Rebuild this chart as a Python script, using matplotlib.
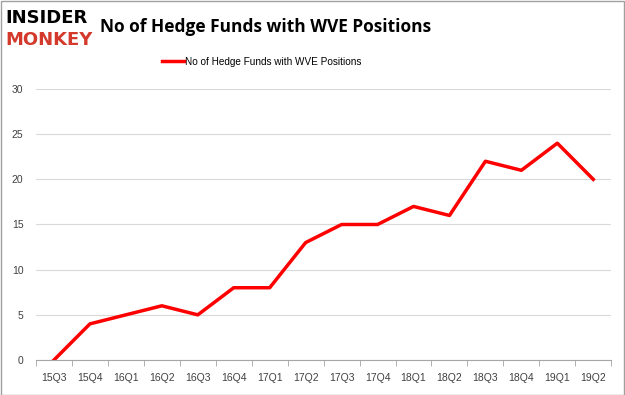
import matplotlib.pyplot as plt
from matplotlib.patches import Rectangle

quarters = ['15Q3', '15Q4', '16Q1', '16Q2', '16Q3', '16Q4', '17Q1', '17Q2',
            '17Q3', '17Q4', '18Q1', '18Q2', '18Q3', '18Q4', '19Q1', '19Q2']
funds = [0, 4, 5, 6, 5, 8, 8, 13, 15, 15, 17, 16, 22, 21, 24, 20]
yticks = [0, 5, 10, 15, 20, 25, 30]
series_name = 'No of Hedge Funds with WVE Positions'

plt.rcParams['font.family'] = ['Liberation Sans', 'DejaVu Sans']

fig = plt.figure(figsize=(6.25, 3.95), dpi=100)
ax = fig.add_axes([0.0576, 0.0886, 0.9204, 0.6861])

x = list(range(len(quarters)))
ax.plot(x, funds, color='#ff0000', linewidth=2.5, label=series_name)

ax.set_xlim(-0.5, len(quarters) - 0.5)
ax.set_ylim(0, 30)
ax.set_yticks(yticks)
ax.set_xticks(x)
ax.set_xticklabels(quarters)
ax.set_xticks([i - 0.5 for i in range(len(quarters) + 1)], minor=True)
ax.grid(axis='y', color='#d9d9d9', linewidth=0.8)
ax.set_axisbelow(True)
for s in ['top', 'right', 'left']:
    ax.spines[s].set_visible(False)
ax.spines['bottom'].set_color('#a6a6a6')
ax.tick_params(axis='y', length=0, labelsize=7.5, colors='#404040', pad=9)
ax.tick_params(axis='x', which='major', length=0, labelsize=7.5, colors='#404040', pad=9)
ax.tick_params(axis='x', which='minor', length=4, color='#a6a6a6')

ax.legend(loc='center left', bbox_to_anchor=(0.219, 1.1), frameon=False,
          fontsize=7.2, handlelength=2.2, handletextpad=0.1,
          borderpad=0, borderaxespad=0)

fig.text(0.16, 0.932, 'No of Hedge Funds with WVE Positions', fontsize=12.5,
         fontweight='bold', va='center', ha='left', family='Open Sans')
fig.text(0.008, 0.954, 'INSIDER', fontsize=13, fontweight='heavy', color='black',
         va='center', ha='left', family='DejaVu Sans')
fig.text(0.008, 0.899, 'MONKEY', fontsize=13, fontweight='heavy', color='#d33a2c',
         va='center', ha='left', family='DejaVu Sans')

fig.patches.append(Rectangle((0.001, 0.001), 0.997, 0.997, transform=fig.transFigure,
                             fill=False, edgecolor='#a0a0a0', linewidth=1))

fig.savefig('out.png', dpi=100)
